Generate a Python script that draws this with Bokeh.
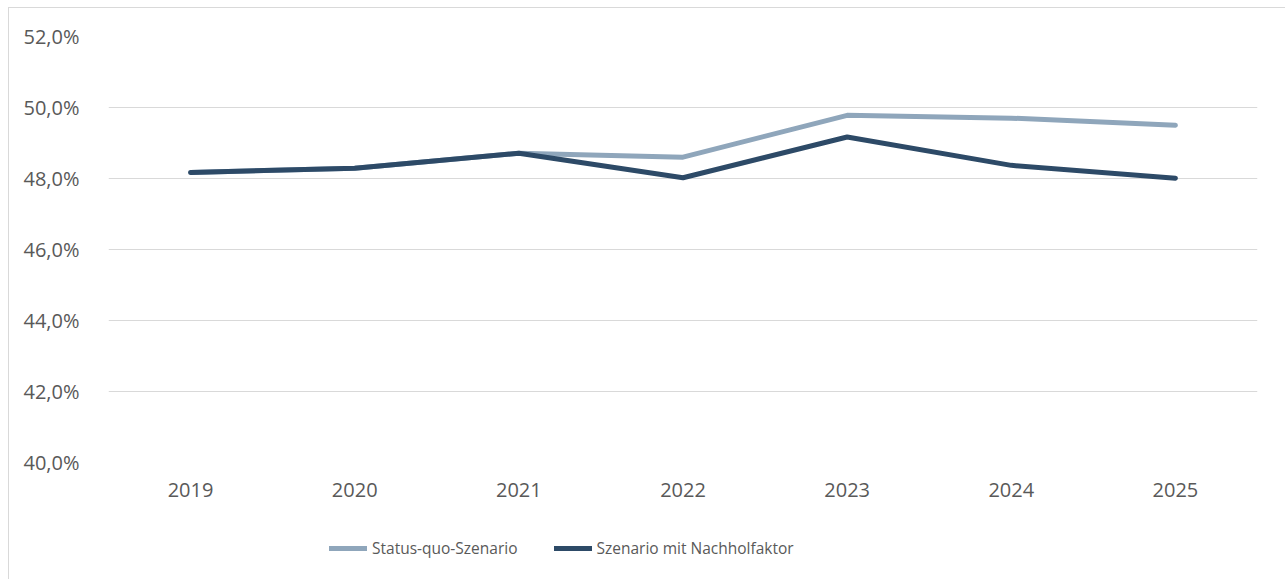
from bokeh.plotting import figure
from bokeh.layouts import column
from bokeh.models import FactorRange, Range1d, FixedTicker, Legend, LegendItem
from bokeh.embed import file_html
from bokeh.resources import INLINE

years = ["2019", "2020", "2021", "2022", "2023", "2024", "2025"]
status_quo = [48.17, 48.29, 48.71, 48.60, 49.78, 49.70, 49.50]
nachholfaktor = [48.17, 48.29, 48.71, 48.02, 49.17, 48.37, 48.01]
y_ticks = [40, 42, 44, 46, 48, 50, 52]
y_labels = ["40,0%", "42,0%", "44,0%", "46,0%", "48,0%", "50,0%", "52,0%"]
series_names = ["Status-quo-Szenario", "Szenario mit Nachholfaktor"]
colors = ["#8FA6BB", "#2D4A67"]

FONT = "Open Sans"
TXT = "#595959"
W = 1276

p = figure(width=W, height=514, x_range=FactorRange(*years), y_range=Range1d(40, 52),
           output_backend="svg", toolbar_location=None,
           min_border_left=99, min_border_right=28, min_border_top=28, min_border_bottom=60)
p.outline_line_color = None
p.background_fill_color = "white"
p.border_fill_color = "white"

p.line(years, status_quo, line_color=colors[0], line_width=5, line_cap="round", line_join="round")
p.line(years, nachholfaktor, line_color=colors[1], line_width=5, line_cap="round", line_join="round")

p.yaxis.ticker = FixedTicker(ticks=y_ticks)
p.yaxis.major_label_overrides = {t: l for t, l in zip(y_ticks, y_labels)}
for ax in (p.xaxis[0], p.yaxis[0]):
    ax.axis_line_color = None
    ax.major_tick_line_color = None
    ax.minor_tick_line_color = None
    ax.major_label_text_font = FONT
    ax.major_label_text_font_size = "20px"
    ax.major_label_text_color = TXT
p.yaxis.major_label_standoff = 23
p.xaxis.major_label_standoff = 14

p.xgrid.grid_line_color = None
p.ygrid.grid_line_color = "#d9d9d9"
p.ygrid.grid_line_width = 1

# legend strip (dummy lines lie outside the visible range; only their legend glyphs show)
p2 = figure(width=W, height=62, x_range=Range1d(0, 1), y_range=Range1d(0, 1),
            output_backend="svg", toolbar_location=None,
            min_border_left=0, min_border_right=0, min_border_top=0, min_border_bottom=0)
p2.axis.visible = False
p2.grid.visible = False
p2.outline_line_color = None
p2.border_fill_color = "white"
items = []
for name, c in zip(series_names, colors):
    r = p2.line([5, 6], [5, 6], line_color=c, line_width=5, line_cap="round")
    items.append(LegendItem(label=name, renderers=[r]))
legend = Legend(items=items, orientation="horizontal", location=(221, 25),
                label_text_font=FONT, label_text_font_size="15.5px", label_text_color=TXT,
                glyph_width=38, glyph_height=20, label_standoff=5, spacing=36,
                border_line_color=None, background_fill_alpha=0, padding=0, margin=0)
p2.add_layout(legend, "center")

layout = column(p, p2, spacing=0)
layout.styles = {"border": "1px solid #d9d9d9", "margin-left": "8px", "margin-top": "7px"}

open("out.html", "w").write(file_html(layout, INLINE))
